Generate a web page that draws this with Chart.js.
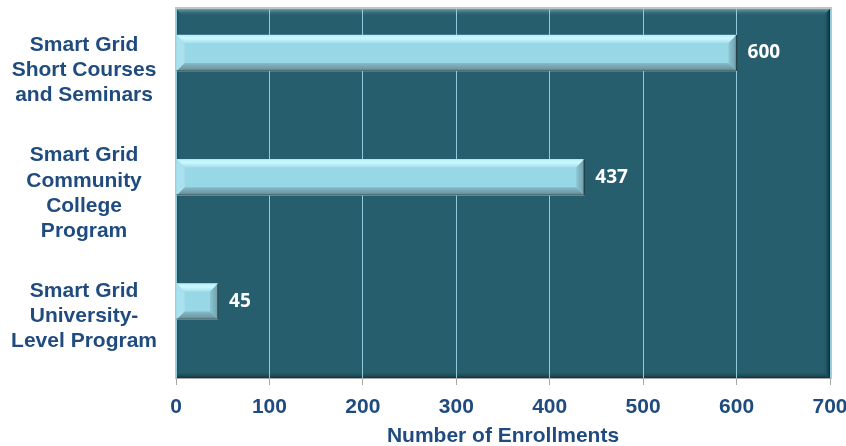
<!DOCTYPE html>
<html>
<head>
<meta charset="utf-8">
<script src="https://cdn.jsdelivr.net/npm/chart.js@4/dist/chart.umd.min.js"></script>
<style>
  html, body { margin: 0; padding: 0; background: #ffffff; }
  #wrap { width: 846px; height: 446px; }
</style>
</head>
<body>
<div id="wrap"><canvas id="c" width="846" height="446"></canvas></div>
<script>
// ---- data ----
const categories = [
  ["Smart Grid", "Short Courses", "and Seminars"],
  ["Smart Grid", "Community", "College", "Program"],
  ["Smart Grid", "University-", "Level Program"]
];
const enrollments = [600, 437, 45];
const xTicks = [0, 100, 200, 300, 400, 500, 600, 700];
const xTitle = "Number of Enrollments";

const TEXT_BLUE = '#1F4B7E';
const PLOT_BG = '#265E6D';

const barPoints = enrollments.map((v, i) => ({ x: v, y: i }));

// plot background with bevelled frame
const plotBg = {
  id: 'plotBg',
  beforeDraw(chart) {
    const { ctx, chartArea: a } = chart;
    ctx.save();
    ctx.fillStyle = '#BFC4C6';
    ctx.fillRect(a.left - 1, a.top - 2, a.right - a.left + 3, a.bottom - a.top + 3);
    ctx.fillStyle = PLOT_BG;
    ctx.fillRect(a.left, a.top, a.right - a.left, a.bottom - a.top);
    const b = 7;
    let g = ctx.createLinearGradient(0, a.top, 0, a.top + b);
    g.addColorStop(0, '#6AA2B0');
    g.addColorStop(1, 'rgba(38,94,109,0)');
    ctx.fillStyle = g;
    ctx.beginPath();
    ctx.moveTo(a.left, a.top); ctx.lineTo(a.right, a.top);
    ctx.lineTo(a.right - b, a.top + b); ctx.lineTo(a.left + b, a.top + b);
    ctx.closePath(); ctx.fill();
    g = ctx.createLinearGradient(a.left, 0, a.left + 4, 0);
    g.addColorStop(0, '#173F4A');
    g.addColorStop(1, 'rgba(38,94,109,0)');
    ctx.fillStyle = g;
    ctx.beginPath();
    ctx.moveTo(a.left, a.top); ctx.lineTo(a.left + 4, a.top + 4);
    ctx.lineTo(a.left + 4, a.bottom - 4); ctx.lineTo(a.left, a.bottom);
    ctx.closePath(); ctx.fill();
    g = ctx.createLinearGradient(a.right, 0, a.right - b, 0);
    g.addColorStop(0, '#0F2A32');
    g.addColorStop(1, 'rgba(38,94,109,0)');
    ctx.fillStyle = g;
    ctx.beginPath();
    ctx.moveTo(a.right, a.top); ctx.lineTo(a.right, a.bottom);
    ctx.lineTo(a.right - b, a.bottom - b); ctx.lineTo(a.right - b, a.top + b);
    ctx.closePath(); ctx.fill();
    g = ctx.createLinearGradient(0, a.bottom, 0, a.bottom - b);
    g.addColorStop(0, '#12323B');
    g.addColorStop(1, 'rgba(38,94,109,0)');
    ctx.fillStyle = g;
    ctx.beginPath();
    ctx.moveTo(a.left, a.bottom); ctx.lineTo(a.right, a.bottom);
    ctx.lineTo(a.right - b, a.bottom - b); ctx.lineTo(a.left + 4, a.bottom - b);
    ctx.closePath(); ctx.fill();
    ctx.restore();
  }
};

// bevel overlay on bars + value labels
const barDeco = {
  id: 'barDeco',
  afterDatasetsDraw(chart) {
    const { ctx } = chart;
    const meta = chart.getDatasetMeta(0);
    ctx.save();
    meta.data.forEach((el, i) => {
      const p = el.getProps(['x', 'y', 'base', 'height'], true);
      const L = Math.min(p.base, p.x), R = Math.max(p.base, p.x);
      const T = p.y - p.height / 2, B = p.y + p.height / 2;
      const b = Math.min(8, (R - L) / 2);
      let g = ctx.createLinearGradient(0, T, 0, T + b);
      g.addColorStop(0, '#B6EEF8');
      g.addColorStop(0.4, '#CCF8FF');
      g.addColorStop(1, '#A6E1EE');
      ctx.fillStyle = g;
      ctx.beginPath();
      ctx.moveTo(L, T); ctx.lineTo(R, T); ctx.lineTo(R - b, T + b); ctx.lineTo(L + b, T + b);
      ctx.closePath(); ctx.fill();
      g = ctx.createLinearGradient(0, B - b, 0, B);
      g.addColorStop(0, '#86BBC8');
      g.addColorStop(0.7, '#6F9AA4');
      g.addColorStop(1, '#5A7E87');
      ctx.fillStyle = g;
      ctx.beginPath();
      ctx.moveTo(L, B); ctx.lineTo(R, B); ctx.lineTo(R - b, B - b); ctx.lineTo(L + b, B - b);
      ctx.closePath(); ctx.fill();
      ctx.fillStyle = '#A9E2EE';
      ctx.beginPath();
      ctx.moveTo(L, T); ctx.lineTo(L + b, T + b); ctx.lineTo(L + b, B - b); ctx.lineTo(L, B);
      ctx.closePath(); ctx.fill();
      g = ctx.createLinearGradient(R - b, 0, R, 0);
      g.addColorStop(0, '#8CC5D2');
      g.addColorStop(1, '#6E9FAB');
      ctx.fillStyle = g;
      ctx.beginPath();
      ctx.moveTo(R, T); ctx.lineTo(R, B); ctx.lineTo(R - b, B - b); ctx.lineTo(R - b, T + b);
      ctx.closePath(); ctx.fill();
      ctx.strokeStyle = '#27424A';
      ctx.lineWidth = 1.5;
      ctx.beginPath(); ctx.moveTo(R, T); ctx.lineTo(R, B); ctx.stroke();
      ctx.strokeStyle = '#4F6E76';
      ctx.lineWidth = 1;
      ctx.beginPath(); ctx.moveTo(L, B - 0.5); ctx.lineTo(R, B - 0.5); ctx.stroke();
      ctx.fillStyle = '#FFFFFF';
      ctx.font = 'bold 19px "Open Sans", "Liberation Sans", sans-serif';
      ctx.textAlign = 'left';
      ctx.textBaseline = 'middle';
      ctx.fillText(String(enrollments[i]), R + 11, p.y);
    });
    ctx.restore();
  }
};

const labelFont = { family: '"Liberation Sans", Arial, sans-serif', size: 21, weight: 'bold', lineHeight: 1.2 };
const titleFont = { family: '"Liberation Sans", Arial, sans-serif', size: 21, weight: 'bold', lineHeight: 0.95 };

new Chart(document.getElementById('c'), {
  type: 'bar',
  data: {
    datasets: [{
      data: barPoints,
      xAxisID: 'x',
      yAxisID: 'yb',
      backgroundColor: '#98D8E6',
      borderWidth: 0,
      barThickness: 36
    }]
  },
  options: {
    indexAxis: 'y',
    responsive: false,
    animation: false,
    events: [],
    layout: { padding: { left: 9, top: 9, right: 0, bottom: 0 } },
    plugins: { legend: { display: false }, tooltip: { enabled: false } },
    scales: {
      x: {
        type: 'linear',
        position: 'bottom',
        min: xTicks[0],
        max: xTicks[xTicks.length - 1],
        afterBuildTicks(scale) { scale.ticks = xTicks.map(v => ({ value: v })); },
        afterFit(scale) { scale.paddingRight = 16; scale.paddingLeft = 0; scale.height = 68; },
        grid: { color: '#8FCBDA', lineWidth: 1, tickLength: 7, tickColor: '#A8A8A8', drawOnChartArea: true },
        border: { display: true, color: '#A8A8A8', width: 1 },
        ticks: { color: TEXT_BLUE, font: labelFont, padding: 10, maxRotation: 0 },
        title: { display: true, text: xTitle, color: TEXT_BLUE, font: titleFont, padding: { top: 6, bottom: 0 } }
      },
      y: {
        type: 'category',
        position: 'left',
        labels: categories,
        offset: true,
        afterFit(scale) { scale.width = 167; scale.paddingTop = 0; scale.paddingBottom = 0; },
        grid: { display: false, drawTicks: false, offset: true },
        border: { display: false },
        ticks: { color: TEXT_BLUE, font: labelFont, padding: 19, crossAlign: 'center', autoSkip: false }
      },
      yb: {
        type: 'linear',
        position: 'left',
        display: false,
        reverse: true,
        offset: false,
        grid: { offset: false },
        min: -0.354,
        max: 2.616,
        ticks: { includeBounds: false, stepSize: 1 }
      }
    }
  },
  plugins: [plotBg, barDeco]
});
</script>
</body>
</html>
